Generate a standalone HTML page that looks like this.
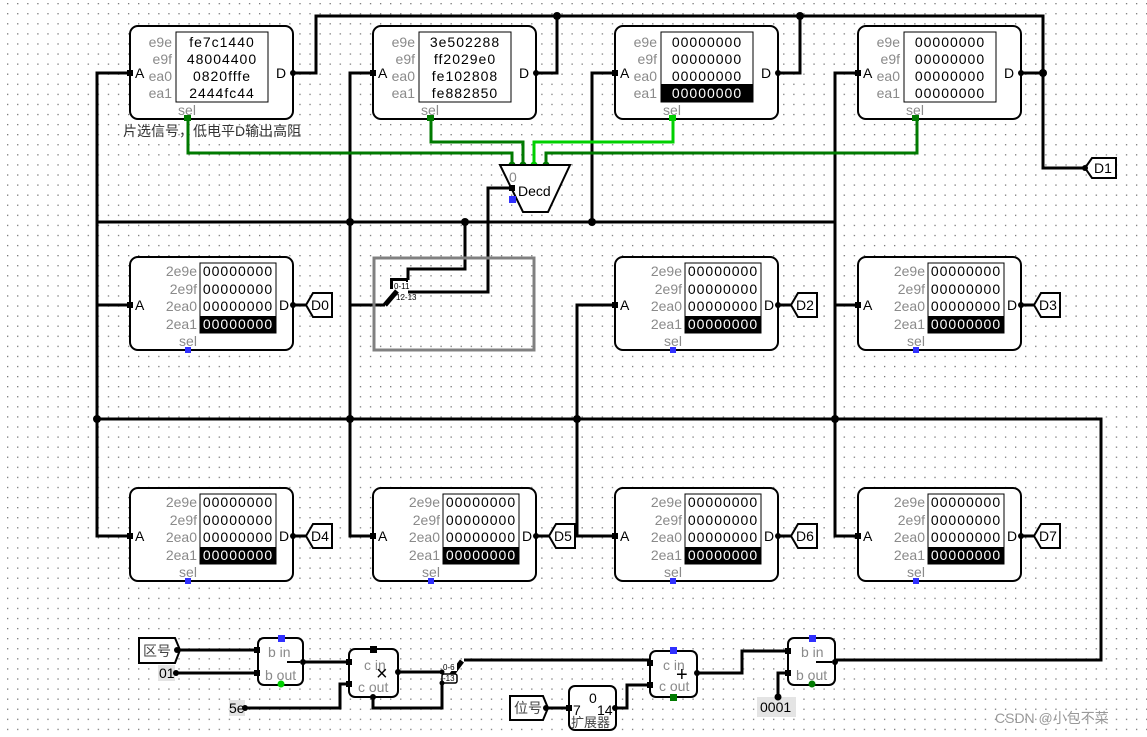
<!DOCTYPE html>
<html><head><meta charset="utf-8"><style>
html,body{margin:0;padding:0;background:#fff;}
svg{display:block;font-family:"Liberation Sans","Noto Sans CJK SC",sans-serif;}
.g{fill:#8a8a8a;font-size:14px;}
.v{font-size:14px;fill:#000;text-anchor:middle;letter-spacing:1px;}
.w{font-size:14px;fill:#fff;text-anchor:middle;letter-spacing:1px;}
.b{fill:#000;font-size:14px;}
.wire{stroke:#000;stroke-width:3;fill:none;stroke-linejoin:miter;}
.box{fill:#fff;stroke:#000;stroke-width:2;}
</style></head><body>
<svg width="1147" height="737" viewBox="0 0 1147 737" xmlns="http://www.w3.org/2000/svg">
<defs>
<pattern id="dots" x="7" y="3" width="10.08" height="10.08" patternUnits="userSpaceOnUse">
<rect x="0" y="0" width="1.3" height="1.3" fill="#777"/>
</pattern>
</defs>
<rect width="1147" height="737" fill="#fff"/>
<rect width="1147" height="737" fill="url(#dots)"/>

<path class="wire" d="M293 73 H316 V16 H1043 V168 H1085"/>
<path class="wire" d="M535 73 H557 V16"/>
<path class="wire" d="M777 73 H800 V16"/>
<path class="wire" d="M1021 73 H1043"/>
<path class="wire" d="M131 73 H97 V536 H131"/>
<path class="wire" d="M97 305 H131"/>
<path class="wire" d="M97 222 H835"/>
<path class="wire" d="M374 73 H350 V536 H374"/>
<path class="wire" d="M350 305 H385"/>
<path class="wire" d="M615 73 H592 V222"/>
<path class="wire" d="M858 73 H835 V536 H858"/>
<path class="wire" d="M835 305 H858"/>
<path class="wire" d="M615 305 H577 V536 H615"/>
<path class="wire" d="M97 419 H1101 V660 H835"/>
<path class="wire" d="M465 222 V269 H408 V280"/>
<path class="wire" d="M408 292 H488 V188 H512"/>
<rect x="374" y="258" width="160" height="92" fill="none" stroke="#808080" stroke-width="3"/>
<path d="M385 305 L397 291" stroke="#000" stroke-width="5"/>
<path d="M392 289 V280 H408" stroke="#000" stroke-width="4" fill="none"/>
<rect x="393" y="281" width="13" height="8" fill="#fff"/>
<text x="394" y="289" font-size="8" fill="#000">0-11</text>
<text x="396" y="300" font-size="8" fill="#000">12-13</text>
<g fill="#000">
<circle cx="557" cy="16" r="4"/><circle cx="800" cy="16" r="4"/><circle cx="1043" cy="73" r="4"/>
<circle cx="350" cy="222" r="4"/><circle cx="592" cy="222" r="4"/><circle cx="465" cy="222" r="4"/>
<circle cx="97" cy="419" r="4"/><circle cx="350" cy="419" r="4"/><circle cx="577" cy="419" r="4"/><circle cx="835" cy="419" r="4"/>
</g>

<path d="M188 118 V153 H512 V165" stroke="#007a00" stroke-width="3" fill="none"/>
<path d="M431 118 V142 H523 V165" stroke="#007a00" stroke-width="3" fill="none"/>
<path d="M673 118 V142 H534 V165" stroke="#00d000" stroke-width="3" fill="none"/>
<path d="M917 118 V153 H546 V165" stroke="#007a00" stroke-width="3" fill="none"/>
<g fill="#007a00"><circle cx="512" cy="165" r="3.5"/><circle cx="523" cy="165" r="3.5"/><circle cx="546" cy="165" r="3.5"/></g>
<circle cx="534" cy="165" r="3.5" fill="#00d000"/>
<path d="M500 165 H570 L548 212 H523 Z" fill="#fff" stroke="#000" stroke-width="2"/>
<text x="509" y="182" class="g">0</text>
<text x="518" y="196" class="b">Decd</text>
<rect x="509" y="185" width="6" height="6" fill="#000"/>
<rect x="509" y="196" width="7" height="7" fill="#3030ff"/>

<text x="123" y="136" font-size="14" fill="#333">片选信号，低电平D输出高阻</text>

<g transform="translate(130,26)">
<rect class="box" x="0" y="0" width="163" height="93" rx="8"/>
<rect x="46" y="6" width="92" height="70" fill="#fff" stroke="#000"/>
<text class="g" x="42" y="21" text-anchor="end">e9e</text><text class="g" x="42" y="38" text-anchor="end">e9f</text><text class="g" x="42" y="55" text-anchor="end">ea0</text><text class="g" x="42" y="72" text-anchor="end">ea1</text>
<text class="v" x="92" y="21">fe7c1440</text><text class="v" x="92" y="38">48004400</text><text class="v" x="92" y="55">0820fffe</text><text class="v" x="92" y="72">2444fc44</text>
<text class="g" x="57" y="89" text-anchor="middle">sel</text>
<rect x="54" y="89" width="7" height="6" fill="#007a00"/>
<rect x="-3" y="44" width="6" height="6" fill="#000"/><text class="b" x="5" y="52">A</text>
<text class="b" x="146" y="52">D</text><circle cx="163" cy="47" r="3"/>
</g>
<g transform="translate(373,26)">
<rect class="box" x="0" y="0" width="163" height="93" rx="8"/>
<rect x="46" y="6" width="92" height="70" fill="#fff" stroke="#000"/>
<text class="g" x="42" y="21" text-anchor="end">e9e</text><text class="g" x="42" y="38" text-anchor="end">e9f</text><text class="g" x="42" y="55" text-anchor="end">ea0</text><text class="g" x="42" y="72" text-anchor="end">ea1</text>
<text class="v" x="92" y="21">3e502288</text><text class="v" x="92" y="38">ff2029e0</text><text class="v" x="92" y="55">fe102808</text><text class="v" x="92" y="72">fe882850</text>
<text class="g" x="57" y="89" text-anchor="middle">sel</text>
<rect x="54" y="89" width="7" height="6" fill="#007a00"/>
<rect x="-3" y="44" width="6" height="6" fill="#000"/><text class="b" x="5" y="52">A</text>
<text class="b" x="146" y="52">D</text><circle cx="163" cy="47" r="3"/>
</g>
<g transform="translate(615,26)">
<rect class="box" x="0" y="0" width="163" height="93" rx="8"/>
<rect x="46" y="6" width="92" height="70" fill="#fff" stroke="#000"/>
<rect x="46" y="58" width="92" height="18" fill="#000"/>
<text class="g" x="42" y="21" text-anchor="end">e9e</text><text class="g" x="42" y="38" text-anchor="end">e9f</text><text class="g" x="42" y="55" text-anchor="end">ea0</text><text class="g" x="42" y="72" text-anchor="end">ea1</text>
<text class="v" x="92" y="21">00000000</text><text class="v" x="92" y="38">00000000</text><text class="v" x="92" y="55">00000000</text><text class="w" x="92" y="72">00000000</text>
<text class="g" x="57" y="89" text-anchor="middle">sel</text>
<rect x="54" y="89" width="7" height="6" fill="#00d000"/>
<rect x="-3" y="44" width="6" height="6" fill="#000"/><text class="b" x="5" y="52">A</text>
<text class="b" x="146" y="52">D</text><circle cx="163" cy="47" r="3"/>
</g>
<g transform="translate(858,26)">
<rect class="box" x="0" y="0" width="163" height="93" rx="8"/>
<rect x="46" y="6" width="92" height="70" fill="#fff" stroke="#000"/>
<text class="g" x="42" y="21" text-anchor="end">e9e</text><text class="g" x="42" y="38" text-anchor="end">e9f</text><text class="g" x="42" y="55" text-anchor="end">ea0</text><text class="g" x="42" y="72" text-anchor="end">ea1</text>
<text class="v" x="92" y="21">00000000</text><text class="v" x="92" y="38">00000000</text><text class="v" x="92" y="55">00000000</text><text class="v" x="92" y="72">00000000</text>
<text class="g" x="57" y="89" text-anchor="middle">sel</text>
<rect x="54" y="89" width="7" height="6" fill="#007a00"/>
<rect x="-3" y="44" width="6" height="6" fill="#000"/><text class="b" x="5" y="52">A</text>
<text class="b" x="146" y="52">D</text><circle cx="163" cy="47" r="3"/>
</g>
<path d="M1085 168 L1092 158 H1116 V178 H1092 Z" fill="#fff" stroke="#000" stroke-width="2"/>
<circle cx="1085" cy="168" r="3"/>
<text class="b" x="1094" y="173">D1</text>

<g transform="translate(130,257)">
<rect class="box" x="0" y="0" width="163" height="93" rx="8"/>
<rect x="70" y="6" width="76" height="70" fill="#fff" stroke="#000"/><rect x="70" y="59" width="76" height="17" fill="#000"/>
<text class="g" x="67" y="19" text-anchor="end">2e9e</text><text class="g" x="67" y="37" text-anchor="end">2e9f</text><text class="g" x="67" y="54" text-anchor="end">2ea0</text><text class="g" x="67" y="72" text-anchor="end">2ea1</text>
<text class="v" x="108" y="19">00000000</text><text class="v" x="108" y="37">00000000</text><text class="v" x="108" y="54">00000000</text><text class="w" x="108" y="72">00000000</text>
<text class="g" x="58" y="89" text-anchor="middle">sel</text><rect x="55" y="90" width="6" height="6" fill="#3030ff"/>
<rect x="-3" y="45" width="6" height="6" fill="#000"/><text class="b" x="5" y="53">A</text>
<text class="b" x="149" y="53">D</text><circle cx="163" cy="48" r="3"/>
<path d="M163 48 H176" stroke="#000" stroke-width="3"/>
<path d="M176 48 L183 36 H202 V60 H183 Z" fill="#fff" stroke="#000" stroke-width="2"/><text class="b" x="181" y="53">D0</text>
</g>
<g transform="translate(615,257)">
<rect class="box" x="0" y="0" width="163" height="93" rx="8"/>
<rect x="70" y="6" width="76" height="70" fill="#fff" stroke="#000"/><rect x="70" y="59" width="76" height="17" fill="#000"/>
<text class="g" x="67" y="19" text-anchor="end">2e9e</text><text class="g" x="67" y="37" text-anchor="end">2e9f</text><text class="g" x="67" y="54" text-anchor="end">2ea0</text><text class="g" x="67" y="72" text-anchor="end">2ea1</text>
<text class="v" x="108" y="19">00000000</text><text class="v" x="108" y="37">00000000</text><text class="v" x="108" y="54">00000000</text><text class="w" x="108" y="72">00000000</text>
<text class="g" x="58" y="89" text-anchor="middle">sel</text><rect x="55" y="90" width="6" height="6" fill="#3030ff"/>
<rect x="-3" y="45" width="6" height="6" fill="#000"/><text class="b" x="5" y="53">A</text>
<text class="b" x="149" y="53">D</text><circle cx="163" cy="48" r="3"/>
<path d="M163 48 H176" stroke="#000" stroke-width="3"/>
<path d="M176 48 L183 36 H202 V60 H183 Z" fill="#fff" stroke="#000" stroke-width="2"/><text class="b" x="181" y="53">D2</text>
</g>
<g transform="translate(858,257)">
<rect class="box" x="0" y="0" width="163" height="93" rx="8"/>
<rect x="70" y="6" width="76" height="70" fill="#fff" stroke="#000"/><rect x="70" y="59" width="76" height="17" fill="#000"/>
<text class="g" x="67" y="19" text-anchor="end">2e9e</text><text class="g" x="67" y="37" text-anchor="end">2e9f</text><text class="g" x="67" y="54" text-anchor="end">2ea0</text><text class="g" x="67" y="72" text-anchor="end">2ea1</text>
<text class="v" x="108" y="19">00000000</text><text class="v" x="108" y="37">00000000</text><text class="v" x="108" y="54">00000000</text><text class="w" x="108" y="72">00000000</text>
<text class="g" x="58" y="89" text-anchor="middle">sel</text><rect x="55" y="90" width="6" height="6" fill="#3030ff"/>
<rect x="-3" y="45" width="6" height="6" fill="#000"/><text class="b" x="5" y="53">A</text>
<text class="b" x="149" y="53">D</text><circle cx="163" cy="48" r="3"/>
<path d="M163 48 H176" stroke="#000" stroke-width="3"/>
<path d="M176 48 L183 36 H202 V60 H183 Z" fill="#fff" stroke="#000" stroke-width="2"/><text class="b" x="181" y="53">D3</text>
</g>
<g transform="translate(130,488)">
<rect class="box" x="0" y="0" width="163" height="93" rx="8"/>
<rect x="70" y="6" width="76" height="70" fill="#fff" stroke="#000"/><rect x="70" y="59" width="76" height="17" fill="#000"/>
<text class="g" x="67" y="19" text-anchor="end">2e9e</text><text class="g" x="67" y="37" text-anchor="end">2e9f</text><text class="g" x="67" y="54" text-anchor="end">2ea0</text><text class="g" x="67" y="72" text-anchor="end">2ea1</text>
<text class="v" x="108" y="19">00000000</text><text class="v" x="108" y="37">00000000</text><text class="v" x="108" y="54">00000000</text><text class="w" x="108" y="72">00000000</text>
<text class="g" x="58" y="89" text-anchor="middle">sel</text><rect x="55" y="90" width="6" height="6" fill="#3030ff"/>
<rect x="-3" y="45" width="6" height="6" fill="#000"/><text class="b" x="5" y="53">A</text>
<text class="b" x="149" y="53">D</text><circle cx="163" cy="48" r="3"/>
<path d="M163 48 H176" stroke="#000" stroke-width="3"/>
<path d="M176 48 L183 36 H202 V60 H183 Z" fill="#fff" stroke="#000" stroke-width="2"/><text class="b" x="181" y="53">D4</text>
</g>
<g transform="translate(373,488)">
<rect class="box" x="0" y="0" width="163" height="93" rx="8"/>
<rect x="70" y="6" width="76" height="70" fill="#fff" stroke="#000"/><rect x="70" y="59" width="76" height="17" fill="#000"/>
<text class="g" x="67" y="19" text-anchor="end">2e9e</text><text class="g" x="67" y="37" text-anchor="end">2e9f</text><text class="g" x="67" y="54" text-anchor="end">2ea0</text><text class="g" x="67" y="72" text-anchor="end">2ea1</text>
<text class="v" x="108" y="19">00000000</text><text class="v" x="108" y="37">00000000</text><text class="v" x="108" y="54">00000000</text><text class="w" x="108" y="72">00000000</text>
<text class="g" x="58" y="89" text-anchor="middle">sel</text><rect x="55" y="90" width="6" height="6" fill="#3030ff"/>
<rect x="-3" y="45" width="6" height="6" fill="#000"/><text class="b" x="5" y="53">A</text>
<text class="b" x="149" y="53">D</text><circle cx="163" cy="48" r="3"/>
<path d="M163 48 H176" stroke="#000" stroke-width="3"/>
<path d="M176 48 L183 36 H202 V60 H183 Z" fill="#fff" stroke="#000" stroke-width="2"/><text class="b" x="181" y="53">D5</text>
</g>
<g transform="translate(615,488)">
<rect class="box" x="0" y="0" width="163" height="93" rx="8"/>
<rect x="70" y="6" width="76" height="70" fill="#fff" stroke="#000"/><rect x="70" y="59" width="76" height="17" fill="#000"/>
<text class="g" x="67" y="19" text-anchor="end">2e9e</text><text class="g" x="67" y="37" text-anchor="end">2e9f</text><text class="g" x="67" y="54" text-anchor="end">2ea0</text><text class="g" x="67" y="72" text-anchor="end">2ea1</text>
<text class="v" x="108" y="19">00000000</text><text class="v" x="108" y="37">00000000</text><text class="v" x="108" y="54">00000000</text><text class="w" x="108" y="72">00000000</text>
<text class="g" x="58" y="89" text-anchor="middle">sel</text><rect x="55" y="90" width="6" height="6" fill="#3030ff"/>
<rect x="-3" y="45" width="6" height="6" fill="#000"/><text class="b" x="5" y="53">A</text>
<text class="b" x="149" y="53">D</text><circle cx="163" cy="48" r="3"/>
<path d="M163 48 H176" stroke="#000" stroke-width="3"/>
<path d="M176 48 L183 36 H202 V60 H183 Z" fill="#fff" stroke="#000" stroke-width="2"/><text class="b" x="181" y="53">D6</text>
</g>
<g transform="translate(858,488)">
<rect class="box" x="0" y="0" width="163" height="93" rx="8"/>
<rect x="70" y="6" width="76" height="70" fill="#fff" stroke="#000"/><rect x="70" y="59" width="76" height="17" fill="#000"/>
<text class="g" x="67" y="19" text-anchor="end">2e9e</text><text class="g" x="67" y="37" text-anchor="end">2e9f</text><text class="g" x="67" y="54" text-anchor="end">2ea0</text><text class="g" x="67" y="72" text-anchor="end">2ea1</text>
<text class="v" x="108" y="19">00000000</text><text class="v" x="108" y="37">00000000</text><text class="v" x="108" y="54">00000000</text><text class="w" x="108" y="72">00000000</text>
<text class="g" x="58" y="89" text-anchor="middle">sel</text><rect x="55" y="90" width="6" height="6" fill="#3030ff"/>
<rect x="-3" y="45" width="6" height="6" fill="#000"/><text class="b" x="5" y="53">A</text>
<text class="b" x="149" y="53">D</text><circle cx="163" cy="48" r="3"/>
<path d="M163 48 H176" stroke="#000" stroke-width="3"/>
<path d="M176 48 L183 36 H202 V60 H183 Z" fill="#fff" stroke="#000" stroke-width="2"/><text class="b" x="181" y="53">D7</text>
</g>

<path class="wire" d="M177 650 H258"/>
<path class="wire" d="M176 673 H258"/>
<path class="wire" d="M303 662 H349"/>
<path class="wire" d="M245 708 H340 V684 H349"/>
<path class="wire" d="M373 697 V708 H442 V682"/>
<path class="wire" d="M398 672 H442"/>
<path class="wire" d="M464 660 H650"/>
<path d="M450 677 L462 661" stroke="#000" stroke-width="5"/>
<path class="wire" d="M547 708 H569"/>
<path class="wire" d="M615 708 H627 V685 H650"/>
<path class="wire" d="M697 673 H742 V651 H788"/>
<path class="wire" d="M778 697 V673 H788"/>

<path d="M139 638 H175 L180 650 L175 663 H139 Z" fill="#fff" stroke="#000" stroke-width="2"/>
<text x="143" y="656" font-size="14" fill="#444">区号</text>
<circle cx="177" cy="650" r="3"/>
<rect x="158" y="665" width="17" height="16" fill="#e4e4e4"/>
<text x="159" y="678" font-size="14" fill="#000">01</text><circle cx="176" cy="673" r="3"/>
<rect x="229" y="700" width="16" height="16" fill="#e4e4e4"/>
<text x="229" y="713" font-size="14" fill="#000">5e</text><circle cx="245" cy="708" r="3"/>

<rect class="box" x="258" y="638" width="45" height="47" rx="6"/>
<text class="g" x="268" y="657">b in</text><text class="g" x="265" y="680">b out</text>
<path d="M287 662 H300" stroke="#000" stroke-width="2"/>
<rect x="278" y="635" width="7" height="7" fill="#3030ff"/>
<circle cx="281" cy="684" r="3.5" fill="#00d000"/>
<rect x="254" y="647" width="6" height="6"/><rect x="254" y="670" width="6" height="6"/>
<circle cx="303" cy="662" r="3"/>
<rect class="box" x="349" y="649" width="49" height="48" rx="6"/>
<text class="g" x="364" y="670">c in</text><text class="g" x="358" y="692">c out</text>
<text x="376" y="680" font-size="20" fill="#000">×</text>
<rect x="370" y="646" width="7" height="7"/>
<rect x="346" y="659" width="6" height="6"/><rect x="346" y="681" width="6" height="6"/>
<circle cx="398" cy="672" r="3"/><circle cx="373" cy="697" r="3"/>
<rect x="443" y="663" width="14" height="8" fill="#fff"/>
<text x="443" y="670" font-size="8" fill="#000">0-6</text>
<rect x="442" y="674" width="15" height="9" fill="#fff" stroke="#000" stroke-width="1.5" rx="2"/>
<text x="443" y="681" font-size="8" fill="#000">-13</text>
<circle cx="442" cy="672" r="2.5"/><circle cx="442" cy="683" r="2.5"/>

<path d="M510 696 H543 L548 708 L543 720 H510 Z" fill="#fff" stroke="#000" stroke-width="2"/>
<text x="514" y="713" font-size="14" fill="#444">位号</text><circle cx="546" cy="708" r="3"/>
<rect class="box" x="569" y="686" width="47" height="44" rx="6"/>
<text x="589" y="703" font-size="14" fill="#000">0</text>
<text x="573" y="715" font-size="14" fill="#000">7</text>
<text x="597" y="715" font-size="14" fill="#000">14</text>
<text x="571" y="727" font-size="13" fill="#444">扩展器</text>
<rect x="566" y="705" width="6" height="6"/><circle cx="615" cy="708" r="3"/>
<rect class="box" x="650" y="651" width="47" height="46" rx="6"/>
<text class="g" x="663" y="670">c in</text><text class="g" x="659" y="691">c out</text>
<text x="676" y="681" font-size="20" fill="#000">+</text>
<rect x="670" y="647" width="7" height="7" fill="#3030ff"/>
<rect x="670" y="694" width="7" height="7" fill="#007a00"/>
<rect x="647" y="660" width="6" height="6"/><rect x="647" y="682" width="6" height="6"/>
<circle cx="697" cy="673" r="3"/>
<rect class="box" x="788" y="638" width="47" height="47" rx="6"/>
<text class="g" x="801" y="657">b in</text><text class="g" x="796" y="680">b out</text>
<path d="M816 662 H832" stroke="#000" stroke-width="2"/>
<rect x="809" y="635" width="7" height="7" fill="#3030ff"/>
<circle cx="812" cy="684" r="3.5" fill="#007a00"/>
<rect x="785" y="648" width="6" height="6"/><rect x="785" y="670" width="6" height="6"/>
<circle cx="835" cy="662" r="3"/>
<rect x="757" y="697" width="39" height="20" fill="#e4e4e4"/>
<text x="760" y="712" font-size="14" fill="#000">0001</text><circle cx="778" cy="697" r="3.5"/>

<text x="995" y="723" font-size="14" fill="#999">CSDN @小包不菜</text>
</svg>
</body></html>
